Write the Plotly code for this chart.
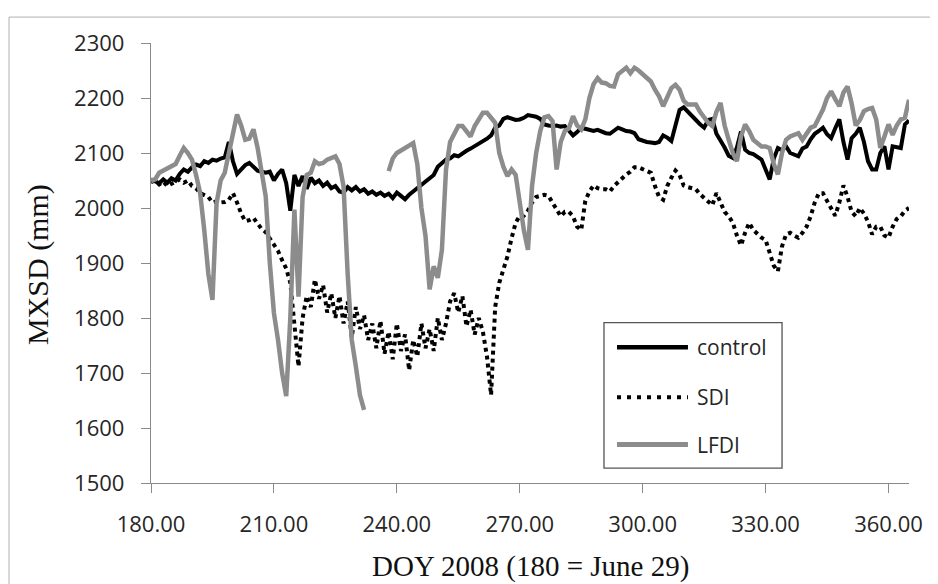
import plotly.graph_objects as go

# Day of year 2008 (daily observations)
doy = list(range(180, 366))

control = [
    2052, 2048, 2045, 2052, 2046, 2054, 2050, 2062, 2070, 2066,
    2074, 2079, 2076, 2085, 2082, 2088, 2086, 2090, 2092, 2120,
    2085, 2062, 2070, 2078, 2082, 2074, 2068, 2066, 2064, 2066,
    2050, 2062, 2070, 2045, 1995, 2060, 2040, 2058, 2035, 2055,
    2045, 2050, 2040, 2046, 2036, 2040, 2030, 2028, 2038, 2032,
    2038, 2030, 2034, 2026, 2030, 2024, 2028, 2022, 2026, 2018,
    2028, 2022, 2016, 2024, 2030, 2036, 2044, 2050, 2055, 2060,
    2075, 2082, 2088, 2090, 2096, 2094, 2100, 2104, 2108, 2112,
    2118, 2120, 2126, 2132, 2146, 2150, 2162, 2165, 2162, 2160,
    2161, 2164, 2169, 2167, 2166, 2162, 2152, 2150, 2149, 2150,
    2148, 2149, 2140, 2132, 2138, 2146, 2144, 2142, 2140, 2142,
    2138, 2136, 2135, 2140, 2146, 2143, 2140, 2139, 2136, 2125,
    2122, 2120, 2119, 2118, 2120, 2132, 2128, 2122, 2150, 2178,
    2183, 2176, 2169, 2160, 2152, 2146, 2160, 2162, 2135, 2124,
    2110, 2095, 2091, 2110, 2139, 2106, 2100, 2098, 2094, 2088,
    2070, 2052, 2090, 2109, 2105, 2112, 2100, 2096, 2094, 2108,
    2112, 2125, 2135, 2140, 2146, 2134, 2127, 2145, 2161, 2120,
    2088, 2127, 2135, 2146, 2120, 2085, 2070, 2070, 2100, 2112,
    2070, 2112, 2110, 2109, 2152, 2159,
]

sdi = [
    2047, 2050, 2043, 2048, 2040, 2044, 2048, 2052, 2046, 2050,
    2040, 2036, 2027, 2024, 2020, 2010, 2012, 2010, 2011, 2015,
    2027, 2010, 1990, 1976, 1978, 1982, 1972, 1962, 1956, 1944,
    1932, 1922, 1905, 1890, 1864, 1790, 1712, 1800, 1840, 1820,
    1870, 1835, 1860, 1810, 1845, 1800, 1840, 1790, 1830, 1765,
    1820, 1780, 1805, 1760, 1790, 1745, 1795, 1735, 1775, 1725,
    1790, 1740, 1770, 1705, 1760, 1730, 1790, 1745, 1780, 1740,
    1800, 1760, 1790, 1830, 1845, 1810, 1840, 1785, 1815, 1770,
    1800, 1775, 1730, 1660, 1820, 1864, 1890, 1912, 1945, 1973,
    1986, 1986, 1995, 2010, 2020, 2022, 2024, 2022, 2010, 2000,
    1985, 1993, 1993, 1985, 1966, 1960, 2013, 2030, 2041, 2036,
    2034, 2034, 2030, 2040, 2047, 2055, 2061, 2066, 2074, 2074,
    2070, 2068, 2064, 2040, 2020, 2015, 2040, 2055, 2068, 2060,
    2041, 2038, 2036, 2034, 2025, 2018, 2013, 2005, 2027, 2010,
    1993, 1985, 1973, 1950, 1932, 1955, 1973, 1960, 1952, 1946,
    1942, 1920, 1895, 1885, 1930, 1952, 1955, 1950, 1946, 1955,
    1966, 1985, 2010, 2027, 2027, 2013, 2000, 1986, 2010, 2041,
    2020, 1993, 1985, 2000, 1990, 1975, 1952, 1966, 1966, 1950,
    1946, 1966, 1980, 1985, 1995, 2000,
]

lfdi = [
    2049, 2052, 2064, 2068, 2072, 2076, 2080, 2095, 2109, 2100,
    2088, 2060, 2027, 1960, 1880, 1833, 2009, 2050, 2064, 2100,
    2140, 2170, 2150, 2124, 2126, 2143, 2110, 2060, 2021, 1900,
    1809, 1760, 1700, 1658, 1800, 1997, 1839, 2020, 2060, 2064,
    2085, 2080, 2082, 2088, 2090, 2094, 2080, 2039, 1880, 1760,
    1712, 1660, 1633, None, None, None, None, None, 2067, 2090,
    2100, 2104, 2109, 2112, 2118, 2080, 2000, 1949, 1852, 1894,
    1873, 1924, 2070, 2120, 2135, 2149, 2149, 2140, 2130, 2149,
    2160, 2173, 2173, 2165, 2155, 2100, 2075, 2058, 2070, 2060,
    2010, 1960, 1924, 2040, 2100, 2140, 2165, 2167, 2158, 2070,
    2120, 2140, 2145, 2167, 2150, 2143, 2161, 2200, 2225, 2236,
    2228, 2227, 2222, 2221, 2243, 2248, 2255, 2245, 2255, 2250,
    2243, 2238, 2230, 2215, 2203, 2185, 2200, 2218, 2224, 2215,
    2195, 2188, 2188, 2188, 2175, 2164, 2155, 2149, 2175, 2191,
    2150, 2124, 2100, 2085, 2130, 2152, 2140, 2124, 2118, 2112,
    2112, 2109, 2080, 2061, 2100, 2124, 2130, 2134, 2136, 2124,
    2135, 2146, 2149, 2165, 2179, 2200, 2212, 2198, 2185, 2210,
    2221, 2190, 2150, 2160, 2176, 2180, 2182, 2161, 2109, 2130,
    2152, 2133, 2150, 2161, 2164, 2197,
]

x_ticks = [180, 210, 240, 270, 300, 330, 360]
y_ticks = [1500, 1600, 1700, 1800, 1900, 2000, 2100, 2200, 2300]

series_names = ["control", "SDI", "LFDI"]

BLACK = "#000000"
GRAY = "#8c8c8c"
AXIS = "#8a8a8a"
TICKFONT = dict(family="Open Sans", size=22, color="#262626")

fig = go.Figure()
fig.add_trace(go.Scatter(x=doy, y=control, mode="lines", name=series_names[0],
                         line=dict(color=BLACK, width=4)))
fig.add_trace(go.Scatter(x=doy, y=sdi, mode="lines", name=series_names[1],
                         line=dict(color=BLACK, width=4, dash="4px,4px")))
fig.add_trace(go.Scatter(x=doy, y=lfdi, mode="lines", name=series_names[2],
                         line=dict(color=GRAY, width=4.5), connectgaps=False))

# The page body adds an 8px offset, so the figure is sized to compensate
fig.update_layout(
    width=930, height=576,
    margin=dict(l=143, r=29, t=35, b=101),
    paper_bgcolor="white", plot_bgcolor="white",
    showlegend=False,
    xaxis=dict(range=[180, 365], tickvals=x_ticks, tickformat=".2f",
               showgrid=False, zeroline=False, showline=True, linecolor=AXIS,
               linewidth=1.3, ticks="outside", ticklen=9, tickcolor=AXIS,
               tickwidth=1.3, tickfont=TICKFONT, ticklabelstandoff=12),
    yaxis=dict(range=[1500, 2300], tickvals=y_ticks,
               showgrid=False, zeroline=False, showline=True, linecolor=AXIS,
               linewidth=1.3, ticks="outside", ticklen=9, tickcolor=AXIS,
               tickwidth=1.3, tickfont=TICKFONT, ticklabelstandoff=12),
)

# Chart frame
fig.add_shape(type="rect", xref="paper", yref="paper",
              x0=-0.1873, x1=1.2, y0=-0.4, y1=1.0589,
              line=dict(color="#b0b0b0", width=1), layer="below")

# Axis titles
fig.add_annotation(text="DOY 2008 (180 = June 29)", xref="paper", yref="paper",
                   x=0.5, y=-0.19, showarrow=False, xanchor="center", yanchor="middle",
                   font=dict(family="Liberation Serif", size=29, color="#111111"))
fig.add_annotation(text="MXSD (mm)", xref="paper", yref="paper",
                   x=-0.150, y=0.496, showarrow=False, textangle=-90,
                   xanchor="center", yanchor="middle",
                   font=dict(family="Liberation Serif", size=30, color="#111111"))

# Legend drawn as a boxed key
fig.add_shape(type="rect", xref="paper", yref="paper",
              x0=0.5976, x1=0.8325, y0=0.0339, y1=0.3645,
              line=dict(color="#555555", width=1.3), fillcolor="white")
key_y = [0.3084, 0.1948, 0.0873]
key_styles = [dict(color=BLACK, width=4.5),
              dict(color=BLACK, width=4, dash="4px,6px"),
              dict(color=GRAY, width=5)]
for name, ky, st in zip(series_names, key_y, key_styles):
    fig.add_shape(type="line", xref="paper", yref="paper",
                  x0=0.6148, x1=0.7084, y0=ky, y1=ky, line=st)
    fig.add_annotation(text=name, xref="paper", yref="paper", x=0.7177, y=ky,
                       xanchor="left", yanchor="middle", showarrow=False,
                       font=dict(family="Open Sans", size=21, color="#262626"))

fig.write_html("out.html")
